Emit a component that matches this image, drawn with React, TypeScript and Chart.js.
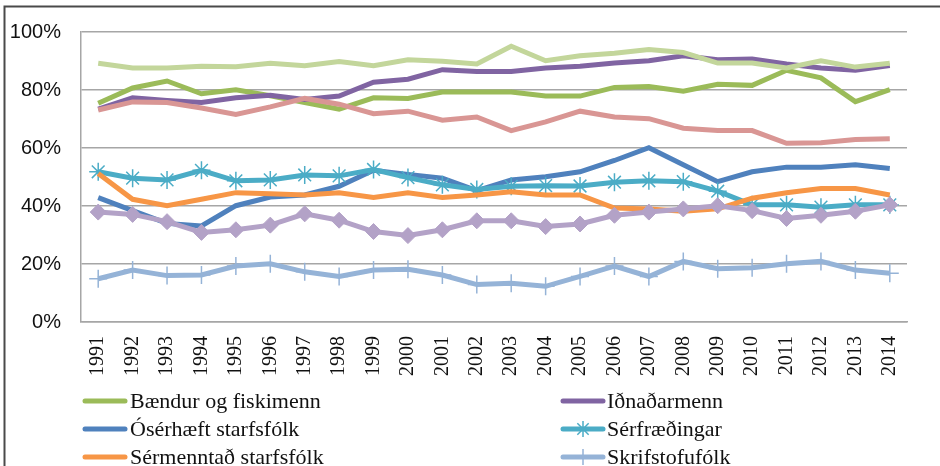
import React, { useEffect, useRef } from "react";
import { Chart, registerables } from "chart.js";

Chart.register(...registerables);

const years = ["1991","1992","1993","1994","1995","1996","1997","1998","1999","2000","2001","2002","2003","2004","2005","2006","2007","2008","2009","2010","2011","2012","2013","2014"];

const yTicks = [0, 20, 40, 60, 80, 100];

const baendur = [75.4, 80.7, 83.1, 78.7, 80.1, 78, 75.7, 73.4, 77.3, 77.1, 79.3, 79.3, 79.3, 77.9, 77.9, 80.9, 81.2, 79.6, 82, 81.6, 86.8, 84.2, 76, 80.1];
const idnadarmenn = [73.4, 77.3, 76.4, 75.7, 77.3, 78.2, 76.7, 77.9, 82.7, 83.7, 87, 86.4, 86.4, 87.6, 88.2, 89.3, 90.1, 91.8, 90.4, 90.7, 89, 87.6, 86.8, 88.4];
const oserhaeft = [42.9, 38.4, 34, 33.1, 40.1, 43.1, 43.8, 46.8, 52.3, 50.9, 49.6, 45.3, 49, 50.1, 51.8, 55.7, 60.1, 54.2, 48.4, 51.8, 53.4, 53.4, 54.2, 52.9];
const serfraedingar = [51.8, 49.6, 49, 52.3, 48.7, 49, 50.7, 50.4, 52.6, 49.8, 47.3, 45.7, 46.8, 47, 46.9, 48.2, 48.7, 48.4, 45.1, 40.4, 40.4, 39.6, 40.4, 40.4];
const sermenntad = [51.2, 42.3, 40.1, 42.3, 44.6, 44.2, 43.8, 44.6, 42.9, 44.6, 42.9, 43.8, 44.9, 43.8, 43.8, 39.3, 39, 38.2, 39, 42.7, 44.6, 46, 46, 43.8];
const skrifstofufolk = [14.9, 17.9, 16, 16.2, 19.3, 20.1, 17.3, 15.7, 17.9, 18.2, 16.2, 12.9, 13.4, 12.3, 15.7, 19.3, 15.7, 20.9, 18.4, 18.7, 20.1, 20.9, 17.9, 16.8];
const stjornendur = [73.1, 75.9, 75.7, 73.8, 71.6, 74.2, 77.1, 75.1, 71.8, 72.7, 69.6, 70.7, 66, 69, 72.7, 70.7, 70.1, 66.8, 66, 66, 61.6, 61.8, 62.9, 63.2];
const velafolk = [89.2, 87.6, 87.6, 88.2, 88, 89.2, 88.4, 89.8, 88.4, 90.4, 89.9, 89, 95.1, 90.1, 91.8, 92.7, 94, 92.9, 89.3, 89.3, 87.6, 90.1, 87.9, 89.2];
const thjonusta = [37.9, 37.1, 34.6, 30.9, 31.8, 33.4, 37.3, 35.1, 31.2, 29.8, 31.8, 34.9, 34.9, 32.9, 33.8, 36.8, 37.9, 39, 40.1, 38.4, 35.7, 36.8, 38.2, 40.4];

const seriesNames = [
  "Bændur og fiskimenn",
  "Iðnaðarmenn",
  "Ósérhæft starfsfólk",
  "Sérfræðingar",
  "Sérmenntað starfsfólk",
  "Skrifstofufólk",
  "Stjórnendur",
  "Véla- og vélgæslufólk",
  "Þjónustu-, sölu- og afgreiðslufólk",
];
const seriesValues = [baendur, idnadarmenn, oserhaeft, serfraedingar, sermenntad, skrifstofufolk, stjornendur, velafolk, thjonusta];
const seriesColors = ["#9BBB59", "#8064A2", "#4F81BD", "#4BACC6", "#F79646", "#95B3D7", "#D99694", "#C3D69B", "#B3A2C7"];
const seriesMarkers: (string | false)[] = [false, false, false, "star", false, "cross", false, false, "rectRot"];
const legendCount = 6;

const SERIF = "'Liberation Serif', 'DejaVu Serif', serif";
const SANS = "'Liberation Sans', Arial, sans-serif";

const framePlugin = {
  id: "frameLegend",
  afterDraw(chart: any) {
    const ctx = chart.ctx;
    ctx.save();
    // outer frame
    ctx.strokeStyle = "#4a4a4a";
    ctx.lineWidth = 2;
    ctx.beginPath();
    ctx.moveTo(4.5, 480);
    ctx.lineTo(4.5, 6.5);
    ctx.lineTo(945, 6.5);
    ctx.stroke();

    // legend
    const cols = [{ x0: 83, x1: 127, tx: 130 }, { x0: 561, x1: 605, tx: 607 }];
    const rows = [401, 429, 457];
    ctx.font = `22px ${SERIF}`;
    ctx.textBaseline = "middle";
    ctx.textAlign = "left";
    for (let i = 0; i < legendCount; i++) {
      const c = cols[i % 2];
      const y = rows[Math.floor(i / 2)];
      const color = seriesColors[i];
      ctx.strokeStyle = color;
      ctx.lineWidth = 5;
      ctx.lineCap = "round";
      ctx.beginPath();
      ctx.moveTo(c.x0 + 2, y);
      ctx.lineTo(c.x1 - 2, y);
      ctx.stroke();
      const mk = seriesMarkers[i];
      const mx = (c.x0 + c.x1) / 2;
      ctx.lineCap = "butt";
      ctx.lineWidth = 1.5;
      if (mk === "star") {
        const r = 8;
        ctx.beginPath();
        for (let k = 0; k < 4; k++) {
          const a = (k * Math.PI) / 4;
          ctx.moveTo(mx - r * Math.cos(a), y - r * Math.sin(a));
          ctx.lineTo(mx + r * Math.cos(a), y + r * Math.sin(a));
        }
        ctx.stroke();
      } else if (mk === "cross") {
        const r = 8;
        ctx.beginPath();
        ctx.moveTo(mx, y - r);
        ctx.lineTo(mx, y + r);
        ctx.moveTo(mx - r, y);
        ctx.lineTo(mx + r, y);
        ctx.stroke();
      }
      ctx.fillStyle = "#111";
      ctx.fillText(seriesNames[i], c.tx, y + 1);
    }
    ctx.restore();
  },
};

export default function App() {
  const ref = useRef<HTMLCanvasElement | null>(null);

  useEffect(() => {
    if (!ref.current) return;
    const datasets = seriesNames.map((name, i) => {
      const mk = seriesMarkers[i];
      return {
        label: name,
        data: seriesValues[i],
        borderColor: seriesColors[i],
        backgroundColor: seriesColors[i],
        borderWidth: 5,
        tension: 0,
        fill: false,
        order: seriesNames.length - i,
        pointStyle: mk || "circle",
        pointRadius: mk ? (mk === "rectRot" ? 8 : 9) : 0,
        pointBorderWidth: mk === "rectRot" ? 1 : 1.5,
        pointBorderColor: seriesColors[i],
        pointBackgroundColor: seriesColors[i],
        pointHoverRadius: 0,
      };
    });

    const chart = new Chart(ref.current, {
      type: "line",
      data: { labels: years, datasets },
      options: {
        responsive: false,
        animation: false,
        events: [],
        layout: { padding: { left: 0, right: 33, top: 21, bottom: 0 } },
        plugins: { legend: { display: false }, tooltip: { enabled: false } },
        scales: {
          x: {
            offset: true,
            grid: { display: false, drawTicks: false },
            border: { display: true, color: "#A6A6A6", width: 1.5 },
            ticks: {
              autoSkip: false,
              minRotation: 90,
              maxRotation: 90,
              padding: 14,
              color: "#111",
              font: { family: SERIF, size: 20 },
            },
            afterFit(scale: any) {
              scale.height = 144;
            },
          },
          y: {
            min: 0,
            max: 100,
            afterBuildTicks(scale: any) {
              scale.ticks = yTicks.map((v) => ({ value: v }));
            },
            grid: { color: "#A6A6A6", lineWidth: 1.5, drawTicks: false },
            border: { display: true, color: "#A6A6A6", width: 1.5 },
            ticks: {
              padding: 20,
              color: "#111",
              font: { family: SANS, size: 20 },
              callback: (v: any) => `${v}%`,
            },
            afterFit(scale: any) {
              scale.width = 81;
            },
          },
        },
      },
      plugins: [framePlugin],
    });
    return () => chart.destroy();
  }, []);

  return (
    <div style={{ position: "fixed", left: 0, top: 0, width: 940, height: 466, background: "#fff", overflow: "hidden" }}>
      <canvas ref={ref} width={940} height={466} style={{ display: "block" }} />
    </div>
  );
}
